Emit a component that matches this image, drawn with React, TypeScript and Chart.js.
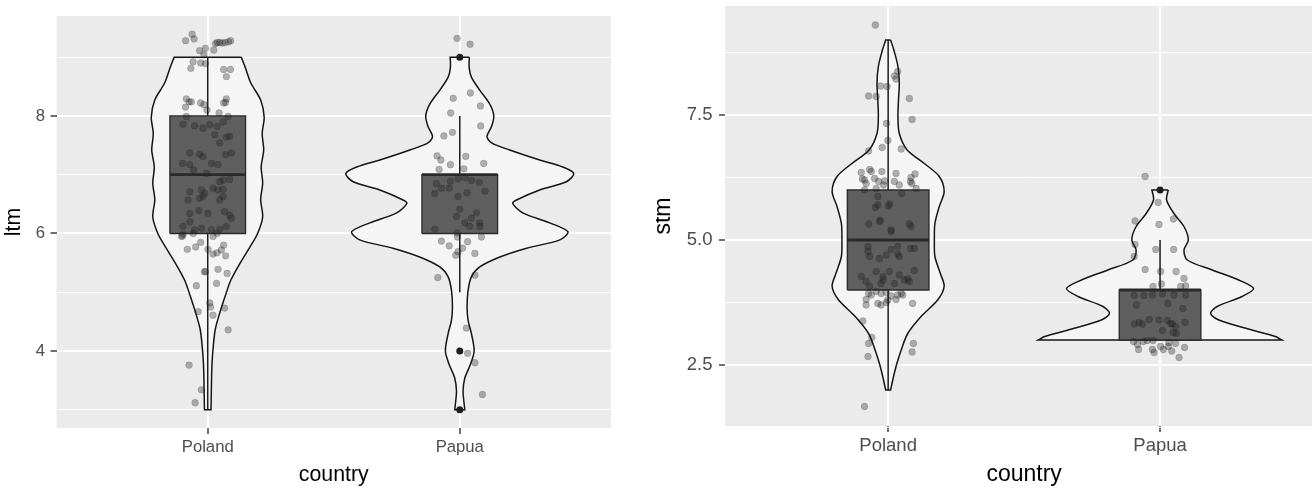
import React, { useEffect, useRef } from 'react';
import { Chart, registerables } from 'chart.js';

Chart.register(...registerables);
Chart.defaults.font.family = '"Liberation Sans", Arial, Helvetica, sans-serif';

// ---------- shared ----------
const categories = ['Poland', 'Papua'];
const categoryPositions = [1, 2];
const xRange = [0.4, 2.6];
const boxHalfWidth = 0.15;

// ---------- ltm panel ----------
const ltmRange = [2.69, 9.7];
const ltmTickValues = [3, 4, 5, 6, 7, 8, 9];
const ltmLabelValues = [4, 6, 8];

const ltmPolandViolinY = [9.0, 8.8, 8.56, 8.27, 7.98, 7.7, 7.42, 7.13, 6.86, 6.57, 6.28, 6.0, 5.78, 5.5, 5.2, 4.93, 4.65, 4.37, 4.08, 3.79, 3.5, 3.0];
const ltmPolandViolinW = [0.133, 0.151, 0.171, 0.21, 0.224, 0.216, 0.222, 0.212, 0.218, 0.21, 0.218, 0.198, 0.169, 0.129, 0.091, 0.069, 0.048, 0.03, 0.022, 0.017, 0.015, 0.013];
const ltmPapuaViolinY = [9.0, 8.83, 8.66, 8.44, 8.2, 8.0, 7.82, 7.65, 7.54, 7.42, 7.25, 7.13, 7.02, 6.88, 6.74, 6.57, 6.51, 6.35, 6.18, 6.03, 5.89, 5.75, 5.6, 5.43, 5.26, 5.03, 4.75, 4.52, 4.3, 4.0, 3.77, 3.54, 3.32, 3.15, 3.0];
const ltmPapuaViolinW = [0.038, 0.037, 0.046, 0.079, 0.119, 0.135, 0.126, 0.108, 0.126, 0.198, 0.317, 0.409, 0.452, 0.423, 0.317, 0.225, 0.21, 0.25, 0.357, 0.429, 0.397, 0.265, 0.159, 0.079, 0.046, 0.033, 0.029, 0.033, 0.046, 0.057, 0.042, 0.02, 0.013, 0.016, 0.02];

const ltmQ1 = [6, 6];
const ltmMedian = [7, 7];
const ltmQ3 = [8, 7];
const ltmWhiskerLow = [3, 5];
const ltmWhiskerHigh = [9, 8];
const ltmPolandOutliers: number[] = [];
const ltmPapuaOutliers = [9, 4, 3];

const ltmPolandJitterDx = [
  -0.062, -0.088, -0.054, -0.032, -0.009, -0.015, 0.024, 0.031, 0.038, 0.048, 0.058, 0.069, 0.083, 0.091,
  -0.058, -0.028, -0.009, -0.067, 0.063, 0.09, 0.074,
  -0.085, -0.074, -0.065, -0.088, -0.028, -0.015, 0.074, 0.063, 0.071, -0.003, 0.045,
  -0.098, -0.052, -0.019, 0.008, 0.037, 0.061, 0.081, -0.085, 0.028, 0.074, 0.048, 0.087,
  -0.071, -0.032, -0.019, 0.071, 0.094, -0.1, -0.071, 0.015, 0.041, -0.056, -0.005, 0.061, 0.087, 0.048,
  -0.071, -0.025, -0.012, 0.021, 0.041, 0.061, -0.078, -0.032, -0.019, 0.048, 0.061,
  -0.071, -0.035, 0.001, 0.067, 0.087, 0.094, -0.098, -0.071, -0.052, -0.025, 0.015, 0.048, 0.074, -0.104, -0.058,
  -0.1, -0.098, 0.021, 0.037, -0.028, -0.048, -0.081, 0.001, 0.021, 0.037, 0.054, 0.063, 0.071,
  -0.009, -0.013, 0.041, 0.077, -0.045, 0.035, 0.008, 0.011, -0.038, 0.021, 0.067, 0.081, -0.074, -0.025, -0.05,
];
const ltmPolandJitterY = [
  9.39, 9.28, 9.31, 9.11, 9.15, 9.04, 9.12, 9.23, 9.25, 9.25, 9.24, 9.25, 9.26, 9.28,
  8.92, 8.9, 8.89, 8.81, 8.79, 8.79, 8.67,
  8.29, 8.24, 8.24, 8.15, 8.22, 8.19, 8.29, 8.22, 8.23, 8.1, 8.05,
  7.86, 7.83, 7.79, 7.85, 7.82, 7.9, 7.99, 7.99, 7.68, 7.64, 7.54, 7.65,
  7.37, 7.35, 7.31, 7.34, 7.37, 7.19, 7.17, 7.19, 7.17, 7.08, 7.02, 6.91, 6.92, 6.88,
  6.71, 6.74, 6.68, 6.77, 6.74, 6.75, 6.57, 6.6, 6.63, 6.57, 6.63,
  6.34, 6.39, 6.34, 6.37, 6.31, 6.26, 6.12, 6.2, 6.06, 6.09, 6.06, 6.07, 6.12, 5.95, 6.0,
  5.96, 5.99, 5.95, 6.0, 5.85, 5.77, 5.73, 5.73, 5.65, 5.67, 5.72, 5.8, 5.62,
  5.35, 5.35, 5.39, 5.32, 5.11, 5.15, 4.82, 4.75, 4.67, 4.61, 4.73, 4.36, 3.76, 3.34, 3.12,
];
const ltmPapuaJitterDx = [
  -0.011, 0.041, 0.042, -0.026, 0.082, -0.036, 0.083, -0.063, -0.029, -0.09, -0.075, 0.024, 0.095, -0.037, -0.082, 0.016,
  -0.093, -0.073, -0.042, -0.007, 0.029, 0.077, 0.1, -0.099, 0.0, -0.013, 0.02, 0.046, 0.066, 0.079, -0.099, -0.007, -0.037, 0.02, 0.046, -0.011, 0.04, 0.079,
  -0.073, -0.042, -0.009, 0.011, -0.007, -0.016, 0.031, 0.086, 0.06, -0.087, 0.06, 0.026, 0.031, 0.06, 0.09,
];
const ltmPapuaJitterY = [
  9.32, 9.22, 8.39, 8.3, 8.17, 8.05, 7.83, 7.66, 7.72, 7.32, 7.25, 7.31, 7.19, 7.17, 7.09, 7.1,
  6.85, 6.77, 6.77, 6.63, 6.69, 6.87, 6.72, 6.68, 6.41, 6.29, 6.18, 6.26, 6.35, 6.18, 6.07, 6.93, 6.89, 6.95, 6.9, 6.01, 6.12, 6.12,
  5.87, 5.79, 5.94, 5.75, 5.69, 5.63, 5.86, 5.94, 5.66, 5.25, 5.29, 4.39, 3.96, 3.8, 3.26,
];

// ---------- stm panel ----------
const stmRange = [1.28, 9.68];
const stmTickValues = [1.25, 2.5, 3.75, 5, 6.25, 7.5, 8.75];
const stmLabelValues = [2.5, 5, 7.5];

const stmPolandViolinY = [9.0, 8.8, 8.47, 8.13, 7.8, 7.47, 7.13, 6.8, 6.53, 6.27, 5.97, 5.67, 5.33, 5.0, 4.67, 4.33, 4.07, 3.8, 3.47, 3.13, 2.8, 2.47, 2.2, 2.0];
const stmPolandViolinW = [0.009, 0.021, 0.036, 0.041, 0.038, 0.036, 0.041, 0.07, 0.133, 0.188, 0.206, 0.188, 0.172, 0.17, 0.172, 0.192, 0.206, 0.182, 0.121, 0.072, 0.048, 0.029, 0.017, 0.009];
const stmPapuaViolinY = [6.0, 5.8, 5.53, 5.27, 5.0, 4.8, 4.6, 4.4, 4.2, 4.03, 3.87, 3.67, 3.53, 3.4, 3.2, 3.07, 3.0];
const stmPapuaViolinW = [0.03, 0.024, 0.051, 0.088, 0.104, 0.088, 0.1, 0.192, 0.289, 0.344, 0.301, 0.21, 0.186, 0.216, 0.338, 0.424, 0.448];

const stmQ1 = [4, 3];
const stmMedian = [5, 4];
const stmQ3 = [6, 4];
const stmWhiskerLow = [2, 3];
const stmWhiskerHigh = [9, 5];
const stmPolandOutliers: number[] = [];
const stmPapuaOutliers = [6];

const stmPolandJitterDx = [
  -0.047, 0.035, 0.023, 0.029, -0.028, -0.004, -0.072, -0.044, 0.078, 0.088, -0.006, -0.001, -0.022, 0.048, -0.072,
  -0.068, -0.062, -0.099, -0.023, 0.029, 0.099,
  -0.095, -0.081, -0.05, -0.035, -0.017, 0.023, 0.041, 0.082, 0.087, 0.103, 0.05, -0.087, -0.044,
  -0.038, -0.047, -0.038, 0.001, -0.029, -0.071, 0.011, 0.078, 0.084, -0.074, -0.068, -0.032, -0.007, 0.035, 0.011, 0.041, 0.082, 0.096,
  -0.044, -0.019, 0.005, 0.041, 0.096, 0.06, -0.081, -0.068, -0.026, 0.023, 0.078, -0.099,
  -0.072, -0.081, -0.062, -0.044, -0.026, -0.007, 0.011, 0.035, 0.048, 0.029, -0.038, -0.026, -0.007, -0.081, 0.09, -0.093, -0.06, -0.072, 0.093, 0.088, -0.074, -0.087,
  -0.087, -0.013, 0.084, 0.005, -0.032, 0.011, -0.074, 0.035, -0.019, 0.072, -0.001, 0.054,
];
const stmPolandJitterY = [
  9.3, 8.37, 8.28, 8.22, 8.08, 8.07, 7.88, 7.87, 7.83, 7.41, 7.33, 6.99, 6.85, 6.82, 6.78,
  6.41, 6.37, 6.35, 6.37, 6.33, 6.32,
  6.22, 6.13, 6.23, 6.17, 6.1, 6.17, 6.1, 6.17, 6.13, 6.03, 5.93, 6.0, 6.03,
  5.87, 5.65, 5.7, 5.68, 5.4, 5.32, 5.2, 5.32, 5.27, 4.87, 4.67, 4.63, 4.7, 4.87, 4.81, 4.67, 4.83, 4.83,
  4.37, 4.27, 4.37, 4.3, 4.39, 4.2, 4.17, 4.07, 4.13, 4.13, 4.17, 4.27,
  3.93, 3.81, 3.9, 3.97, 3.93, 3.95, 3.88, 3.9, 3.93, 3.81, 3.73, 3.7, 3.75, 3.7, 3.73, 3.38, 3.05, 2.93, 2.93, 2.76, 2.67, 1.67,
  6.2, 6.18, 6.25, 5.72, 5.37, 5.17, 4.77, 4.72, 4.2, 4.22, 3.8, 3.9,
];
const stmPapuaJitterDx = [
  -0.055, -0.007, -0.092, 0.049, -0.004, -0.092, -0.095, -0.016, 0.05, -0.055, 0.002, 0.059, 0.088, 0.005, -0.026, 0.076, 0.094,
  -0.095, -0.059, -0.028, 0.009, 0.051, 0.094, -0.087, 0.029, 0.084, -0.04, -0.077, -0.095, -0.065, -0.004, 0.027, 0.045, 0.057, 0.092, 0.009, 0.048, 0.06, 0.039,
  -0.098, -0.083, -0.062, -0.047, -0.026, -0.079, -0.028, -0.022, 0.002, 0.012, 0.033, 0.057, 0.043, 0.09, 0.07, 0.03,
];
const stmPapuaJitterY = [
  6.27, 5.75, 5.38, 5.42, 5.31, 4.91, 4.67, 4.81, 4.81, 4.41, 4.37, 4.37, 4.23, 4.12, 4.07, 4.07, 4.08,
  3.89, 3.89, 3.9, 3.92, 3.9, 3.9, 3.7, 3.73, 3.63, 3.41, 3.35, 3.32, 3.32, 3.4, 3.39, 3.32, 3.27, 3.35, 3.19, 3.15, 3.13, 3.33,
  2.97, 2.91, 2.97, 2.99, 2.99, 2.81, 2.81, 2.75, 2.87, 2.81, 2.95, 2.93, 2.78, 2.85, 2.65, 2.87,
];

// ---------- helpers ----------
type Pt = { x: number; y: number };

function violinPolygon(pos: number, ys: number[], ws: number[]): Pt[] {
  const right = ys.map((y, i) => ({ x: pos + ws[i], y }));
  const left = ys.map((y, i) => ({ x: pos - ws[i], y })).reverse();
  const n = right.length;
  return [right[0], ...right, right[n - 1], left[0], ...left, left[n - 1], right[0]];
}

function buildDatasets(
  violinY: number[][], violinW: number[][],
  q1: number[], med: number[], q3: number[], lo: number[], hi: number[],
  outliers: number[][], jitterDx: number[][], jitterY: number[][],
) {
  const ds: any[] = [];
  categoryPositions.forEach((pos, c) => {
    ds.push({
      data: violinPolygon(pos, violinY[c], violinW[c]),
      showLine: true, fill: 'shape', tension: 0.3,
      backgroundColor: '#F5F5F5', borderColor: '#151515', borderWidth: 1.5,
      pointRadius: 0, order: 6,
    });
    ds.push({
      data: [{ x: pos, y: q3[c] }, { x: pos, y: hi[c] }],
      showLine: true, fill: false, borderColor: '#1E1E1E', borderWidth: 1.5, pointRadius: 0, order: 5,
    });
    ds.push({
      data: [{ x: pos, y: lo[c] }, { x: pos, y: q1[c] }],
      showLine: true, fill: false, borderColor: '#1E1E1E', borderWidth: 1.5, pointRadius: 0, order: 5,
    });
    ds.push({
      data: [
        { x: pos - boxHalfWidth, y: q1[c] }, { x: pos + boxHalfWidth, y: q1[c] },
        { x: pos + boxHalfWidth, y: q3[c] }, { x: pos - boxHalfWidth, y: q3[c] },
        { x: pos - boxHalfWidth, y: q1[c] },
      ],
      showLine: true, fill: 'shape', tension: 0,
      backgroundColor: '#5F5F5F', borderColor: '#2C2C2C', borderWidth: 1.4, pointRadius: 0, order: 4,
    });
    ds.push({
      data: [{ x: pos - boxHalfWidth, y: med[c] }, { x: pos + boxHalfWidth, y: med[c] }],
      showLine: true, fill: false, borderColor: '#2A2A2A', borderWidth: 2.8, pointRadius: 0, order: 3,
    });
    ds.push({
      data: outliers[c].map((y) => ({ x: pos, y })),
      pointRadius: 3.5, pointBackgroundColor: '#1E1E1E', pointBorderWidth: 0, order: 2,
    });
    ds.push({
      data: jitterDx[c].map((dx, i) => ({ x: pos + dx, y: jitterY[c][i] })),
      pointRadius: 3.4, pointBackgroundColor: 'rgba(30,30,30,0.33)',
      pointBorderColor: 'rgba(30,30,30,0.18)', pointBorderWidth: 0.8, order: 1,
    });
  });
  return ds;
}

const panelBg = {
  id: 'panelBg',
  beforeDraw(chart: any) {
    const { ctx, chartArea: a } = chart;
    ctx.save();
    ctx.fillStyle = '#EBEBEB';
    ctx.fillRect(a.left, a.top, a.right - a.left, a.bottom - a.top);
    ctx.restore();
  },
};

function makeConfig(p: {
  datasets: any[]; yRange: number[]; tickValues: number[]; labelValues: number[];
  fmt: (v: number) => string; yTitle: string; padding: any; yWidth: number; xHeight: number;
  tickSize: number; titleSize: number; yTitlePad: number; xTickPad: number; yTickPad: number;
}) {
  const isMajor = (v: number) => p.labelValues.some((l) => Math.abs(l - v) < 1e-6);
  return {
    type: 'scatter',
    data: { datasets: p.datasets },
    options: {
      animation: false,
      responsive: false,
      events: [],
      layout: { padding: p.padding },
      plugins: { legend: { display: false }, tooltip: { enabled: false } },
      scales: {
        x: {
          type: 'linear',
          min: xRange[0],
          max: xRange[1],
          afterBuildTicks: (s: any) => { s.ticks = categoryPositions.map((v) => ({ value: v })); },
          afterFit: (s: any) => { s.height = p.xHeight; s.paddingLeft = 0; s.paddingRight = 0; },
          border: { display: false },
          grid: { color: '#FFFFFF', lineWidth: 2, tickColor: '#333333', tickLength: 6, tickWidth: 1.4 },
          ticks: {
            autoSkip: false, maxRotation: 0, padding: p.xTickPad, color: '#4D4D4D',
            font: { size: p.tickSize },
            callback: (v: number) => categories[Math.round(v) - 1] ?? '',
          },
          title: { display: true, text: 'country', color: '#000000', font: { size: p.titleSize }, padding: { top: 0, bottom: 0 } },
        },
        y: {
          type: 'linear',
          min: p.yRange[0],
          max: p.yRange[1],
          afterBuildTicks: (s: any) => { s.ticks = p.tickValues.map((v) => ({ value: v })); },
          afterFit: (s: any) => { s.width = p.yWidth; s.paddingTop = 0; s.paddingBottom = 0; },
          border: { display: false },
          grid: {
            color: '#FFFFFF',
            lineWidth: (ctx: any) => (ctx.tick && isMajor(ctx.tick.value) ? 2 : 1),
            tickColor: (ctx: any) => (ctx.tick && isMajor(ctx.tick.value) ? '#333333' : 'rgba(0,0,0,0)'),
            tickLength: 6,
            tickWidth: 1.4,
          },
          ticks: {
            autoSkip: false, padding: p.yTickPad, color: '#4D4D4D',
            font: { size: p.tickSize },
            callback: (v: number) => (isMajor(v) ? p.fmt(v) : ''),
          },
          title: { display: true, text: p.yTitle, color: '#000000', font: { size: p.titleSize }, padding: { top: p.yTitlePad, bottom: 0 } },
        },
      },
    },
    plugins: [panelBg],
  } as any;
}

export default function App() {
  const leftRef = useRef<HTMLCanvasElement>(null);
  const rightRef = useRef<HTMLCanvasElement>(null);

  useEffect(() => {
    const leftCfg = makeConfig({
      datasets: buildDatasets(
        [ltmPolandViolinY, ltmPapuaViolinY], [ltmPolandViolinW, ltmPapuaViolinW],
        ltmQ1, ltmMedian, ltmQ3, ltmWhiskerLow, ltmWhiskerHigh,
        [ltmPolandOutliers, ltmPapuaOutliers],
        [ltmPolandJitterDx, ltmPapuaJitterDx], [ltmPolandJitterY, ltmPapuaJitterY],
      ),
      yRange: ltmRange, tickValues: ltmTickValues, labelValues: ltmLabelValues,
      fmt: (v) => String(v), yTitle: 'ltm',
      padding: { left: 0, top: 16, right: 45, bottom: 0 }, yWidth: 56.5, xHeight: 60,
      tickSize: 16.7, titleSize: 21.3, yTitlePad: 1.5, xTickPad: 3.2, yTickPad: 5.5,
    });
    const rightCfg = makeConfig({
      datasets: buildDatasets(
        [stmPolandViolinY, stmPapuaViolinY], [stmPolandViolinW, stmPapuaViolinW],
        stmQ1, stmMedian, stmQ3, stmWhiskerLow, stmWhiskerHigh,
        [stmPolandOutliers, stmPapuaOutliers],
        [stmPolandJitterDx, stmPapuaJitterDx], [stmPolandJitterY, stmPapuaJitterY],
      ),
      yRange: stmRange, tickValues: stmTickValues, labelValues: stmLabelValues,
      fmt: (v) => v.toFixed(1), yTitle: 'stm',
      padding: { left: 0, top: 6, right: 2, bottom: 0 }, yWidth: 69, xHeight: 62,
      tickSize: 18.5, titleSize: 23, yTitlePad: -5.8, xTickPad: 2.4, yTickPad: 6.5,
    });
    const a = new Chart(leftRef.current as HTMLCanvasElement, leftCfg);
    const b = new Chart(rightRef.current as HTMLCanvasElement, rightCfg);
    return () => { a.destroy(); b.destroy(); };
  }, []);

  return (
    <div style={{ position: 'absolute', left: 0, top: 0, width: 1312, height: 488, background: '#FFFFFF', overflow: 'hidden' }}>
      <div style={{ position: 'absolute', left: 0, top: 0, width: 656, height: 488 }}>
        <canvas ref={leftRef} width={656} height={488} style={{ display: 'block', width: 656, height: 488 }} />
      </div>
      <div style={{ position: 'absolute', left: 656, top: 0, width: 656, height: 488, overflow: 'hidden' }}>
        <canvas ref={rightRef} width={672} height={488} style={{ display: 'block', width: 672, height: 488 }} />
      </div>
    </div>
  );
}
